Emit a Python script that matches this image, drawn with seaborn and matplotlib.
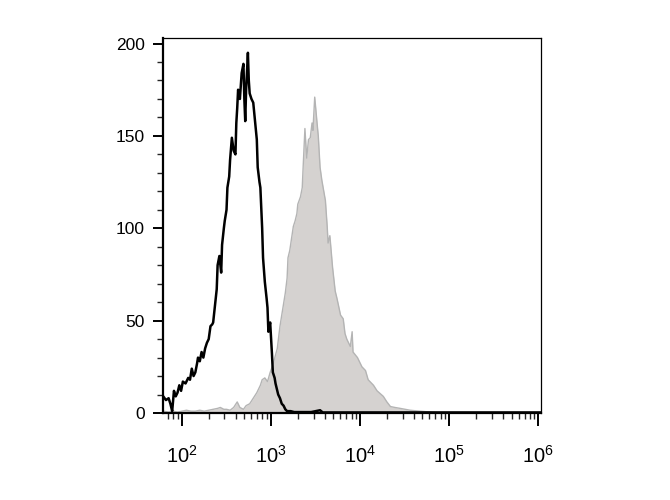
import numpy as np
import pandas as pd
import seaborn as sns
import matplotlib.pyplot as plt
from matplotlib.ticker import FixedLocator, LogLocator, NullFormatter, MultipleLocator

# アイソタイプ対照 (黒線): log10 蛍光強度とイベント数
ctrl_log = [1.79, 1.82, 1.85, 1.87, 1.89, 1.91, 1.93, 1.95, 1.97, 1.99,
            2.01, 2.04, 2.07, 2.09, 2.11, 2.13, 2.15, 2.17, 2.18, 2.20,
            2.22, 2.24, 2.26, 2.28, 2.30, 2.32, 2.34, 2.35, 2.37, 2.39,
            2.40, 2.42, 2.44, 2.45, 2.47, 2.48, 2.50, 2.51, 2.53, 2.54,
            2.56, 2.58, 2.60, 2.61, 2.62, 2.63, 2.65, 2.67, 2.69, 2.70,
            2.71, 2.72, 2.74, 2.75, 2.76, 2.78, 2.80, 2.82, 2.84, 2.85,
            2.87, 2.88, 2.90, 2.91, 2.93, 2.95, 2.96, 2.97, 2.99, 3.01,
            3.02, 3.04, 3.05, 3.07, 3.08, 3.10, 3.12, 3.14, 3.16, 3.18,
            3.22, 3.26, 3.33, 3.45, 3.55, 3.58, 3.80, 4.50, 6.03]
ctrl_count = [9, 7, 8, 5, 1, 12, 9, 11, 15, 12,
              17, 16, 19, 18, 24, 20, 22, 27, 30, 28,
              33, 30, 35, 38, 40, 47, 48, 49, 58, 67,
              80, 85, 76, 91, 100, 104, 110, 122, 128, 137,
              149, 142, 140, 157, 165, 175, 170, 184, 189, 170,
              158, 175, 195, 180, 173, 170, 168, 158, 148, 133,
              125, 122, 100, 84, 71, 62, 57, 44, 49, 32,
              22, 19, 16, 12, 10, 8, 5, 4, 2, 1,
              1, 0.5, 0.5, 0.5, 1.5, 0.3, 0.3, 0.3, 0.3]

# 染色サンプル (灰色塗りつぶし)
stain_log = [1.79, 1.85, 1.90, 1.95, 2.00, 2.05, 2.10, 2.15, 2.20, 2.25,
             2.30, 2.35, 2.40, 2.43, 2.47, 2.50, 2.54, 2.58, 2.62, 2.65,
             2.69, 2.72, 2.76, 2.80, 2.84, 2.88, 2.90, 2.93, 2.96, 2.99,
             3.02, 3.07, 3.10, 3.13, 3.16, 3.18, 3.19, 3.21, 3.25, 3.27,
             3.29, 3.30, 3.33, 3.35, 3.36, 3.38, 3.40, 3.42, 3.44, 3.46,
             3.47, 3.49, 3.52, 3.53, 3.55, 3.57, 3.61, 3.63, 3.64, 3.66,
             3.69, 3.72, 3.74, 3.78, 3.81, 3.83, 3.85, 3.89, 3.91, 3.92,
             3.97, 4.02, 4.06, 4.09, 4.15, 4.19, 4.26, 4.30, 4.34, 4.39,
             4.45, 4.56, 4.67, 4.79, 4.90, 6.03]
stain_count = [1, 0.5, 1, 0.5, 1, 1.5, 1, 1, 1.5, 1,
               1.5, 2, 2.5, 3, 2, 2, 1.5, 3, 6, 3,
               2, 4, 5, 8, 11, 15, 18, 19, 17, 22,
               26, 35, 47, 56, 65, 73, 84, 88, 101, 104,
               108, 113, 117, 122, 133, 154, 138, 148, 149, 157,
               153, 171, 155, 150, 133, 126, 115, 101, 92, 96,
               79, 66, 62, 53, 51, 43, 40, 36, 44, 33,
               30, 25, 23, 18, 15, 12, 9, 6, 3.5, 3,
               2.5, 1.5, 1, 0.5, 0, 0]

y_ticks = [0, 50, 100, 150, 200]
x_decades = [2, 3, 4, 5, 6]

ctrl = pd.DataFrame({"fl": np.power(10.0, ctrl_log), "count": ctrl_count})
stain = pd.DataFrame({"fl": np.power(10.0, stain_log), "count": stain_count})

sns.set_style("ticks")
plt.rcParams["font.family"] = ["Liberation Sans", "DejaVu Sans"]
plt.rcParams["mathtext.fontset"] = "custom"
plt.rcParams["mathtext.rm"] = "Liberation Sans"

fig = plt.figure(figsize=(6.7, 5), dpi=100)
ax = fig.add_axes([163 / 670, 87 / 500, 378 / 670, 375 / 500])

ax.fill_between(stain["fl"], 0, stain["count"], color="#d5d2d0", lw=0, zorder=1)
sns.lineplot(data=stain, x="fl", y="count", ax=ax, color="#b4b4b4", lw=1.0,
             sort=False, zorder=2)
sns.lineplot(data=ctrl, x="fl", y="count", ax=ax, color="black", lw=1.8,
             sort=False, zorder=3)

ax.set_xscale("log")
ax.set_xlim(10 ** 1.787, 10 ** 6.03)
ax.set_ylim(0, 203)

ax.xaxis.set_major_locator(FixedLocator([10.0 ** d for d in x_decades]))
ax.set_xticklabels([f"$10^{{{d}}}$" for d in x_decades], fontsize=14.5)
ax.xaxis.set_minor_locator(LogLocator(base=10, subs=np.arange(2, 10), numticks=20))
ax.xaxis.set_minor_formatter(NullFormatter())

ax.set_yticks(y_ticks)
ax.set_yticklabels([str(v) for v in y_ticks], fontsize=12.5)
ax.yaxis.set_minor_locator(MultipleLocator(10))

ax.tick_params(axis="x", which="major", length=9, width=1.4, pad=14, colors="black")
ax.tick_params(axis="x", which="minor", length=4, width=1.0)
ax.tick_params(axis="y", which="major", length=7, width=1.4, pad=6, colors="black")
ax.tick_params(axis="y", which="minor", length=4, width=1.0)

for side in ["left", "bottom"]:
    ax.spines[side].set_linewidth(1.6)
for side in ["top", "right"]:
    ax.spines[side].set_linewidth(0.9)
for s in ax.spines.values():
    s.set_color("black")

ax.set_xlabel("")
ax.set_ylabel("")

fig.savefig("out.png", dpi=100)
plt.close(fig)
